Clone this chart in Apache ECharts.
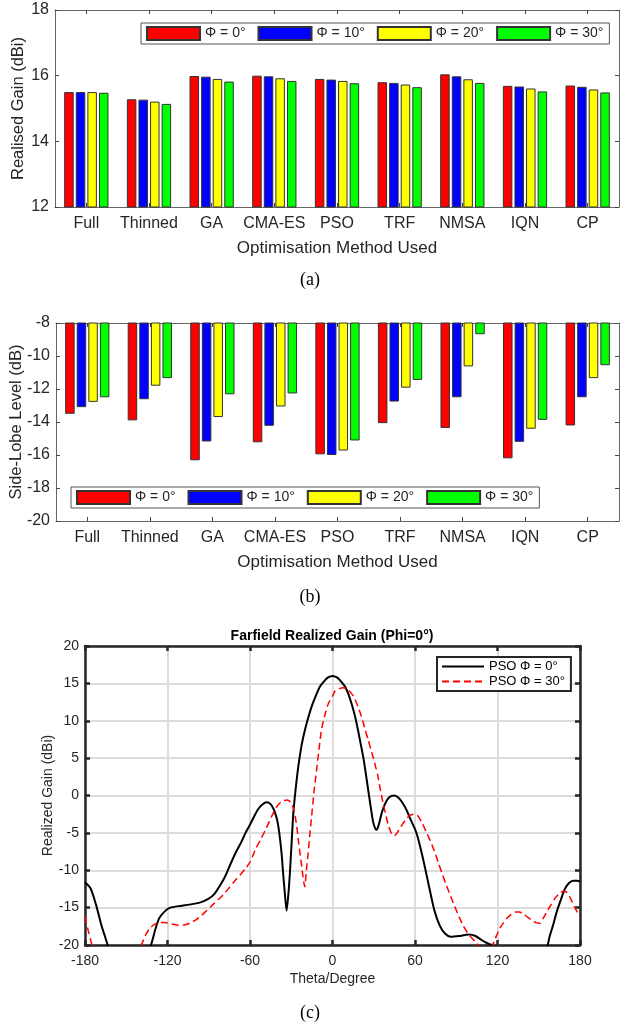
<!DOCTYPE html>
<html><head><meta charset="utf-8">
<script src="https://cdn.jsdelivr.net/npm/echarts@6/dist/echarts.min.js"></script>
<style>html,body{margin:0;padding:0;background:#fff}#c{width:620px;height:1027px}</style>
</head><body><div id="c"></div>
<script>
// ---------- data ----------
const methods = ['Full','Thinned','GA','CMA-ES','PSO','TRF','NMSA','IQN','CP'];
const phiNames = ['Φ = 0°','Φ = 10°','Φ = 20°','Φ = 30°'];
const gainPhi0  = [15.50,15.28,15.99,16.00,15.90,15.80,16.04,15.69,15.70];
const gainPhi10 = [15.50,15.27,15.97,15.98,15.88,15.78,15.98,15.67,15.66];
const gainPhi20 = [15.50,15.21,15.90,15.92,15.84,15.73,15.89,15.61,15.58];
const gainPhi30 = [15.48,15.14,15.82,15.84,15.77,15.65,15.78,15.52,15.49];
const sllPhi0  = [-13.50,-13.90,-16.32,-15.23,-15.96,-14.07,-14.36,-16.20,-14.21];
const sllPhi10 = [-13.10,-12.62,-15.18,-14.23,-16.00,-12.76,-12.50,-15.20,-12.50];
const sllPhi20 = [-12.78,-11.80,-13.70,-13.06,-15.73,-11.92,-10.63,-14.41,-11.34];
const sllPhi30 = [-12.50,-11.34,-12.32,-12.27,-15.12,-11.45,-8.68,-13.87,-10.56];
const gainTicks = [12,14,16,18];
const sllTicks = [-20,-18,-16,-14,-12,-10,-8];
const thetaTicks = [-180,-120,-60,0,60,120,180];
const patternTicks = [-20,-15,-10,-5,0,5,10,15,20];
const lineNames = ['PSO Φ = 0°','PSO Φ = 30°'];
const theta0 = [-180,-176,-172,-168,-164,-158,-150,-142,-136,-132,-129,-126,-122,-118,-112,-104,-96,-90,-86,-82,-78,-74,-70,-66,-63,-60,-57,-54,-51,-48,-46,-44,-42,-40,-38.5,-37,-36,-34.8,-33.4,-32,-31,-30,-28.5,-27,-25,-22.5,-20,-17.5,-15,-12,-9,-6,-4,-2,0,2,4,6,9,11.5,14,16.5,18.5,20.5,22.5,24.5,26,28,29.5,31,32,33,34.5,36,38,40.5,43,45,48,51,54,57,60,62,66,70,74,78,82,86,92,99,104,109,113,117,122,130,138,146,152,156.5,158,160.5,163,166,169,172,175,178,180];
const pattern0 = [-11.6,-12.4,-14.6,-17.4,-19.7,-23,-25.5,-24,-21.5,-20,-18,-16.4,-15.5,-15.0,-14.8,-14.6,-14.3,-13.8,-13.2,-12.1,-10.8,-9.1,-7.5,-6.1,-4.9,-3.9,-2.8,-1.8,-1.2,-0.9,-1.0,-1.4,-2.2,-3.5,-5.3,-7.8,-10.2,-12.8,-15.4,-13,-10.4,-7.2,-2.4,0.5,3.7,6.7,8.8,10.5,12.0,13.4,14.6,15.3,15.7,15.9,16.0,15.9,15.7,15.3,14.6,13.6,12.2,10.5,8.8,6.9,5.0,2.6,0.7,-1.8,-3.5,-4.4,-4.6,-4.3,-3.3,-2.2,-1.2,-0.4,-0.05,0.0,-0.3,-1.0,-2.0,-3.3,-4.5,-5.6,-8.6,-12.0,-15.3,-17.4,-18.5,-18.9,-18.8,-18.6,-18.8,-19.4,-19.8,-20.1,-22,-25,-25.5,-24,-22,-20,-18.8,-17.3,-15.6,-14.0,-12.5,-11.7,-11.4,-11.4,-11.5];
const theta30 = [-180,-178,-176,-174,-166,-158,-150,-143,-139,-136,-133,-130,-126,-122,-117,-112,-107,-103,-99,-95,-91,-87,-83,-79,-75,-71,-67,-63,-60,-56,-52,-48,-44,-41,-37,-33,-30,-28,-26,-24.5,-23,-21.5,-20.2,-19,-17.7,-16.5,-15.2,-13.5,-11.6,-9.8,-8,-5.5,-3,0,2,5,8,11,14,16,18.5,21,23.5,26,28.5,31,33,35,37,39,41,43,45,47,50,53,56,59,62,65,68,71,74,77,80,83,86,89,92,95,98,101,104,106,109,112,114.5,116.5,118.5,121,124,127,130,133,136,139,142,145,148,150.5,153,156,159,162,165,168,170,172,174,176,178,180];
const pattern30 = [-16.2,-17.8,-19.3,-20.5,-24,-25,-24,-21.8,-20,-18.7,-17.8,-17.3,-17.0,-17.0,-17.2,-17.35,-17.3,-17.0,-16.6,-16.0,-15.3,-14.6,-13.9,-13.2,-12.3,-11.4,-10.6,-9.7,-8.9,-7.2,-5.8,-4.3,-2.7,-1.6,-0.8,-0.6,-1.0,-2.0,-4.1,-6.5,-8.6,-10.8,-12.2,-10.0,-7.7,-5.3,-2.8,0.4,3.4,6.2,8.8,10.8,12.3,13.3,14.0,14.3,14.4,14.2,13.6,13.0,11.9,10.6,9.0,7.4,5.8,4.1,2.6,0.6,-1.2,-2.8,-4.2,-5.1,-5.4,-5.0,-4.1,-3.3,-2.7,-2.5,-2.7,-3.6,-4.8,-6.0,-7.4,-9.0,-10.6,-12.1,-13.5,-14.9,-16.2,-17.4,-18.3,-19.0,-19.6,-20.0,-21.0,-21.2,-20.6,-20.0,-19.1,-18.0,-17.1,-16.4,-15.9,-15.6,-15.6,-15.9,-16.3,-16.7,-17.0,-17.1,-16.5,-15.5,-14.6,-13.7,-13.1,-12.8,-12.9,-13.4,-14.1,-14.9,-15.6,-16.2];

// ---------- styling ----------
const F = '"Liberation Sans", Arial, sans-serif';
const TXT = '#262626';
const barColors = ['#ff0000','#0000ff','#ffff00','#00ff00'];
const chart = echarts.init(document.getElementById('c'), null, {renderer:'canvas'});

function catAxis(grid, pos, show, name, gap){
  return {gridIndex:grid, type:'category', data:methods, position:pos,
    axisLine:{show:true, onZero:false, lineStyle:{color:'#666', width:1}},
    axisTick:{show:true, inside:true, alignWithLabel:true, length:4, lineStyle:{color:'#444'}},
    axisLabel:{show:show, interval:0, hideOverlap:false, margin:9, fontSize:16, color:TXT, fontFamily:F},
    splitLine:{show:false},
    name: show ? name : '', nameLocation:'middle', nameGap:gap, nameMoveOverlap:false,
    nameTextStyle:{fontSize:17, color:TXT, fontFamily:F}};
}
function valAxis(grid, pos, ticks, show, name, gap){
  return {gridIndex:grid, type:'value', position:pos, min:ticks[0], max:ticks[ticks.length-1],
    interval:ticks[1]-ticks[0],
    axisLine:{show:true, onZero:false, lineStyle:{color:'#666', width:1}},
    axisTick:{show:true, inside:true, length:4, lineStyle:{color:'#444'}},
    axisLabel:{show:show, margin:6, fontSize:16, color:TXT, fontFamily:F},
    splitLine:{show:false},
    name: show ? name : '', nameLocation:'middle', nameGap:gap, nameRotate:90, nameMoveOverlap:false,
    nameTextStyle:{fontSize:16.5, color:TXT, fontFamily:F}};
}
function cAxisX(pos, show){
  return {gridIndex:2, type:'value', position:pos, min:thetaTicks[0], max:thetaTicks[thetaTicks.length-1],
    interval:thetaTicks[1]-thetaTicks[0],
    axisLine:{show:true, onZero:false, lineStyle:{color:'#262626', width:2.5}},
    axisTick:{show:true, inside:true, length:5, lineStyle:{color:'#262626', width:2.5}},
    axisLabel:{show:show, margin:9, fontSize:14, color:TXT, fontFamily:F},
    splitLine:{show:show, lineStyle:{color:'#dcdcdc', width:2}},
    name: show ? 'Theta/Degree' : '', nameLocation:'middle', nameGap:27, nameMoveOverlap:false,
    nameTextStyle:{fontSize:14, color:TXT, fontFamily:F}};
}
function cAxisY(pos, show){
  return {gridIndex:2, type:'value', position:pos, min:patternTicks[0], max:patternTicks[patternTicks.length-1],
    interval:patternTicks[1]-patternTicks[0],
    axisLine:{show:true, onZero:false, lineStyle:{color:'#262626', width:2.5}},
    axisTick:{show:true, inside:true, length:5, lineStyle:{color:'#262626', width:2.5}},
    axisLabel:{show:show, margin:6, fontSize:14, color:TXT, fontFamily:F},
    splitLine:{show:show, lineStyle:{color:'#dcdcdc', width:2}},
    name: show ? 'Realized Gain (dBi)' : '', nameLocation:'middle', nameGap:30, nameRotate:90, nameMoveOverlap:false,
    nameTextStyle:{fontSize:14, color:TXT, fontFamily:F}};
}
function barLegend(left, top){
  return {data:phiNames, left:left, top:top, orient:'horizontal', icon:'rect',
    itemWidth:53, itemHeight:13, itemGap:12, padding:[3,6,3,5],
    borderColor:'#555', borderWidth:1, backgroundColor:'#fff', selectedMode:false,
    textStyle:{fontSize:14, color:TXT, fontFamily:F}};
}
const gainSets = [gainPhi0, gainPhi10, gainPhi20, gainPhi30];
const sllSets = [sllPhi0, sllPhi10, sllPhi20, sllPhi30];
const series = [];
gainSets.forEach((d,i)=>series.push({type:'bar', name:phiNames[i], xAxisIndex:0, yAxisIndex:0, data:d,
  barWidth:9.5, barGap:'22%', clip:true, silent:true,
  itemStyle:{color:barColors[i], borderColor:'#333', borderWidth:1}}));
sllSets.forEach((d,i)=>series.push({type:'bar', name:phiNames[i], xAxisIndex:2, yAxisIndex:2, data:d,
  barWidth:9.5, barGap:'22%', clip:true, silent:true,
  itemStyle:{color:barColors[i], borderColor:'#333', borderWidth:1}}));
series.push({type:'line', name:lineNames[0], xAxisIndex:4, yAxisIndex:4, clip:true,
  data: theta0.map((t,i)=>[t, pattern0[i]]), symbol:'none', showSymbol:false, smooth:0.25,
  lineStyle:{color:'#000', width:2}, itemStyle:{color:'#000'}});
series.push({type:'line', name:lineNames[1], xAxisIndex:4, yAxisIndex:4, clip:true,
  data: theta30.map((t,i)=>[t, pattern30[i]]), symbol:'none', showSymbol:false, smooth:0.25,
  lineStyle:{color:'#ff0000', width:1.5, type:[7,4]}, itemStyle:{color:'#ff0000'}});

const option = {
  animation:false,
  backgroundColor:'#fff',
  grid:[
    {left:55, top:10, width:564, height:197, outerBoundsMode:'none'},
    {left:56, top:323, width:563, height:198, outerBoundsMode:'none'},
    {left:85, top:646, width:495, height:299, outerBoundsMode:'none'}
  ],
  xAxis:[
    catAxis(0,'bottom',true,'Optimisation Method Used',32.5),
    catAxis(0,'top',false,'',0),
    catAxis(1,'bottom',true,'Optimisation Method Used',32.5),
    catAxis(1,'top',false,'',0),
    cAxisX('bottom',true),
    cAxisX('top',false)
  ],
  yAxis:[
    valAxis(0,'left',gainTicks,true,'Realised Gain (dBi)',28),
    valAxis(0,'right',gainTicks,false,'',0),
    valAxis(1,'left',sllTicks,true,'Side-Lobe Level (dB)',31),
    valAxis(1,'right',sllTicks,false,'',0),
    cAxisY('left',true),
    cAxisY('right',false)
  ],
  legend:[
    barLegend(141,23),
    barLegend(71,487),
    {data:lineNames, left:437, top:657, orient:'vertical', itemWidth:42, itemHeight:14, itemGap:2,
     padding:[3,6,3,4], borderColor:'#262626', borderWidth:2, backgroundColor:'#fff', selectedMode:false,
     itemStyle:{opacity:0, color:'transparent', borderColor:'transparent', borderWidth:0},
     textStyle:{fontSize:13, color:'#000', fontFamily:F}}
  ],
  graphic:[
    {type:'text', x:310, y:280, style:{text:'(a)', font:'18px "Liberation Serif", serif', fill:'#000', textAlign:'center', textVerticalAlign:'middle', verticalAlign:'middle'}},
    {type:'text', x:310, y:597, style:{text:'(b)', font:'18px "Liberation Serif", serif', fill:'#000', textAlign:'center', textVerticalAlign:'middle', verticalAlign:'middle'}},
    {type:'text', x:310, y:1013, style:{text:'(c)', font:'18px "Liberation Serif", serif', fill:'#000', textAlign:'center', textVerticalAlign:'middle', verticalAlign:'middle'}},
    {type:'text', x:332, y:636, style:{text:'Farfield Realized Gain (Phi=0°)', font:'bold 14px "Liberation Sans", Arial, sans-serif', fill:'#000', textAlign:'center', textVerticalAlign:'middle', verticalAlign:'middle'}}
  ],
  series: series
};
chart.setOption(option);
</script></body></html>
